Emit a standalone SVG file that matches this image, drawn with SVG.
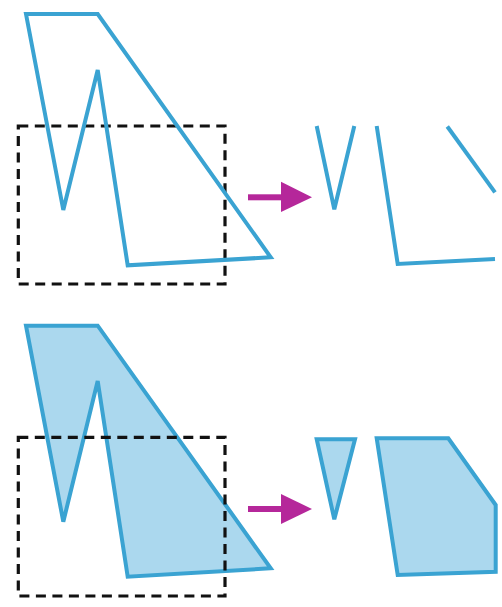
<svg xmlns="http://www.w3.org/2000/svg" width="502" height="607" viewBox="0 0 502 607">
<style>
.ln{fill:none;stroke:#3aa3d2;stroke-width:4;stroke-linejoin:miter;stroke-linecap:butt}
.fl{fill:#abd8ee;stroke:#3aa3d2;stroke-width:4;stroke-linejoin:miter}
.clip{fill:none;stroke:#111;stroke-width:3.2;stroke-dasharray:10 6.5}
.arr{fill:#b5279a}
</style>
<rect width="502" height="607" fill="#fff"/>
<g id="top">
  <g id="top-clip"><rect class="clip" x="18.3" y="126" width="206.7" height="158"/></g>
  <g id="top-polygon"><polygon class="ln" points="26,14 97.7,14 270.7,257.3 127.7,265.3 97.7,70 63.3,210"/></g>
  <g id="top-arrow">
    <rect class="arr" x="248" y="194.3" width="34" height="6"/>
    <polygon class="arr" points="281,181.7 312,197.3 281,212"/>
  </g>
  <g id="top-result-v"><polyline class="ln" points="316.7,126 334.3,209.3 354.3,126"/></g>
  <g id="top-result-l"><polyline class="ln" points="376.7,126 397.7,264 495,259"/></g>
  <g id="top-result-diag"><line class="ln" x1="447.3" y1="126.5" x2="495" y2="192.3"/></g>
</g>
<g id="bottom">
  <g id="bottom-polygon"><polygon class="fl" points="26,325.7 97.7,325.7 270.7,568.3 127.7,576.7 97.7,381 63.3,521.7"/></g>
  <g id="bottom-clip"><rect class="clip" x="18.3" y="437.3" width="206.7" height="158.7"/></g>
  <g id="bottom-arrow">
    <rect class="arr" x="248" y="506" width="34" height="6"/>
    <polygon class="arr" points="281,494 312,509 281,524"/>
  </g>
  <g id="bottom-result-triangle"><polygon class="fl" points="316.7,439.3 355,439.3 334.3,519.3"/></g>
  <g id="bottom-result-pentagon"><polygon class="fl" points="376.7,438.3 448.3,438.3 495.7,505 495.7,571.7 397.7,575"/></g>
</g>
</svg>
